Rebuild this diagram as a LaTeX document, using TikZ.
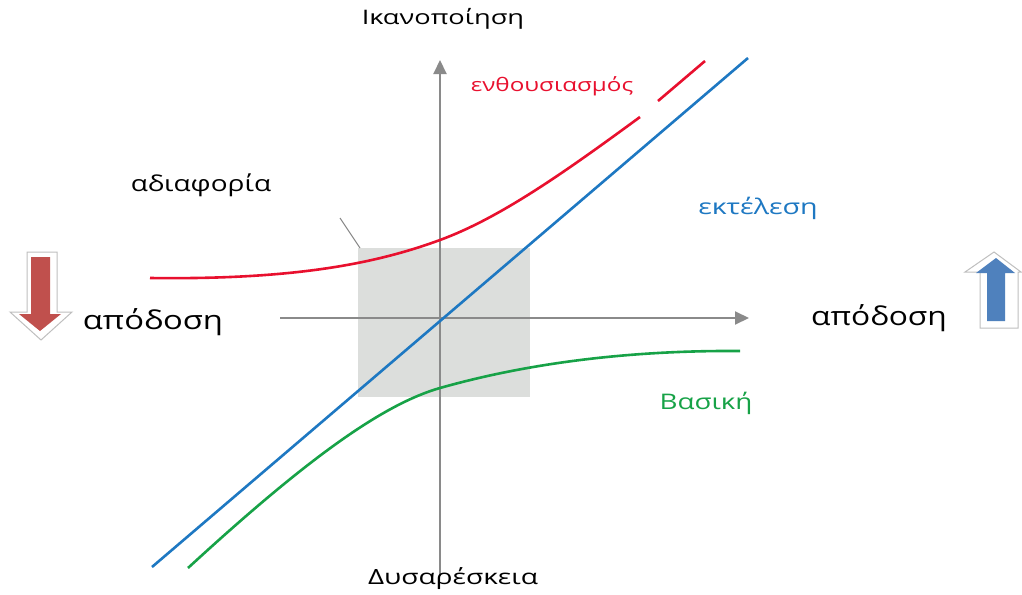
\documentclass[tikz,border=0pt]{standalone}
\usepackage{fontspec}
\setmainfont{Open Sans}
\usetikzlibrary{arrows.meta}
\definecolor{axisgray}{HTML}{8A8A8A}
\definecolor{boxgray}{HTML}{DCDEDC}
\definecolor{cred}{HTML}{E8102E}
\definecolor{cblue}{HTML}{1E78C2}
\definecolor{cgreen}{HTML}{17A247}
\definecolor{arrred}{HTML}{C0504D}
\definecolor{arrblue}{HTML}{4F81BD}
\tikzset{
  axis/.style={draw=axisgray, line width=2pt, -{Triangle[length=14pt,width=13pt]}},
  curve/.style={line width=2.6pt},
  lbl/.style={inner sep=0pt, font=\fontsize{20}{24}\selectfont},
  shadowarr/.style={fill=white, draw=black!25, line width=1pt},
}
\begin{document}
\begin{tikzpicture}[x=1pt,y=-1pt]
\useasboundingbox (0,0) rectangle (1022,594);
% gray box
\fill[boxgray] (358,248) rectangle (530,397);
% leader
\draw[axisgray, line width=1pt] (340,218) -- (360,248);
% axes
\coordinate (vb) at (440,576);
\coordinate (vt) at (440,60);
\coordinate (hl) at (280,318);
\coordinate (hr) at (749,318);
\draw[axis] (vb) -- (vt);
\draw[axis] (hl) -- (hr);
% curves
\draw[cblue, curve] (152,567) -- (748,58);
\draw[cred, curve] (150,278) .. controls (300,280) and (380,262) .. (440,240)
   .. controls (500,218) and (565,172) .. (640,117);
\draw[cred, curve] (658,101) -- (705,61);
\draw[cgreen, curve] (188,568) .. controls (300,465) and (380,405) .. (440,388)
   .. controls (500,371) and (600,350) .. (740,351);
% labels
\node[lbl, xscale=1.36] (top) at (443,19) {Ικανοποίηση};
\node[lbl, xscale=1.34, font=\fontsize{21}{24}\selectfont] (bot) at (453,579) {Δυσαρέσκεια};
\node[lbl, xscale=1.31, text=cred, font=\fontsize{18.5}{22}\selectfont] (enth) at (552,86) {ενθουσιασμός};
\node[lbl, xscale=1.27, font=\fontsize{22}{26}\selectfont] (adia) at (201,185) {αδιαφορία};
\node[lbl, xscale=1.33, text=cblue, font=\fontsize{21.5}{26}\selectfont] (ekt) at (758,208) {εκτέλεση};
\node[lbl, xscale=1.29, text=cgreen, font=\fontsize{21.5}{26}\selectfont] (vas) at (706,403) {Βασική};
\node[lbl, xscale=1.26, font=\fontsize{26}{30}\selectfont] (apl) at (153,322) {απόδοση};
\node[lbl, xscale=1.22, font=\fontsize{26}{30}\selectfont] (apr) at (879,318) {απόδοση};
% left down arrow
\draw[shadowarr] (27,252) -- (57,252) -- (57,312) -- (72,312) -- (41,340) -- (10,312) -- (27,312) -- cycle;
\fill[arrred] (31,257) -- (50,257) -- (50,314) -- (61,314) -- (40,331) -- (19,314) -- (31,314) -- cycle;
% right up arrow
\draw[shadowarr] (980,328) -- (1018,328) -- (1018,272) -- (1021,272) -- (994,252) -- (965,272) -- (980,272) -- cycle;
\fill[arrblue] (987,321) -- (1005,321) -- (1005,273) -- (1015,273) -- (996,258) -- (976,273) -- (987,273) -- cycle;
\end{tikzpicture}
\end{document}
